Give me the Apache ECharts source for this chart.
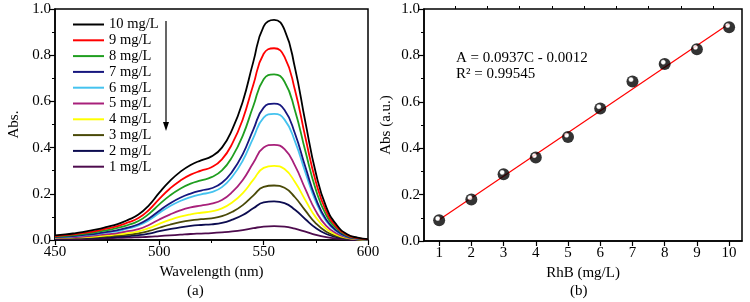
<!DOCTYPE html>
<html>
<head>
<meta charset="utf-8">
<script src="https://cdn.jsdelivr.net/npm/echarts@6/dist/echarts.min.js"></script>
<style>
  html, body { margin: 0; padding: 0; background: #fff; }
  #main { width: 750px; height: 302px; }
</style>
</head>
<body>
<div id="main"></div>
<script>
// (a) absorption spectra, every 5 nm
const wavelengths = [450, 455, 460, 465, 470, 475, 480, 485, 490, 495, 500, 505, 510, 515, 520, 525, 530, 535, 540, 545, 550, 555, 560, 565, 570, 575, 580, 585, 590, 595, 600];
const spec10 = [0.020, 0.024, 0.030, 0.037, 0.046, 0.057, 0.069, 0.087, 0.110, 0.150, 0.205, 0.255, 0.295, 0.325, 0.345, 0.362, 0.400, 0.480, 0.600, 0.770, 0.925, 0.953, 0.910, 0.745, 0.510, 0.290, 0.142, 0.065, 0.025, 0.010, 0.004];
const spec9 = [0.017, 0.021, 0.026, 0.032, 0.040, 0.050, 0.060, 0.076, 0.095, 0.130, 0.178, 0.222, 0.257, 0.283, 0.300, 0.315, 0.349, 0.418, 0.523, 0.671, 0.806, 0.830, 0.793, 0.649, 0.444, 0.252, 0.124, 0.056, 0.022, 0.008, 0.003];
const spec8 = [0.015, 0.018, 0.022, 0.028, 0.034, 0.043, 0.052, 0.065, 0.082, 0.113, 0.154, 0.192, 0.222, 0.244, 0.258, 0.272, 0.301, 0.361, 0.452, 0.579, 0.696, 0.717, 0.685, 0.561, 0.384, 0.218, 0.107, 0.049, 0.019, 0.007, 0.003];
const spec7 = [0.013, 0.015, 0.018, 0.023, 0.028, 0.035, 0.043, 0.054, 0.068, 0.093, 0.127, 0.158, 0.183, 0.201, 0.214, 0.224, 0.248, 0.297, 0.372, 0.477, 0.573, 0.590, 0.563, 0.461, 0.316, 0.179, 0.088, 0.040, 0.015, 0.006, 0.002];
const spec6 = [0.012, 0.014, 0.017, 0.021, 0.026, 0.033, 0.039, 0.050, 0.063, 0.086, 0.117, 0.146, 0.169, 0.186, 0.198, 0.207, 0.229, 0.275, 0.344, 0.441, 0.530, 0.546, 0.521, 0.427, 0.292, 0.166, 0.081, 0.037, 0.014, 0.005, 0.002];
const spec5 = [0.010, 0.011, 0.013, 0.016, 0.020, 0.025, 0.030, 0.038, 0.047, 0.065, 0.089, 0.110, 0.128, 0.141, 0.149, 0.157, 0.173, 0.208, 0.260, 0.333, 0.400, 0.412, 0.393, 0.322, 0.220, 0.125, 0.061, 0.028, 0.011, 0.004, 0.002];
const spec4 = [0.009, 0.010, 0.011, 0.013, 0.016, 0.020, 0.024, 0.030, 0.037, 0.051, 0.070, 0.087, 0.101, 0.111, 0.118, 0.124, 0.137, 0.163, 0.203, 0.260, 0.312, 0.321, 0.307, 0.251, 0.172, 0.098, 0.048, 0.022, 0.009, 0.003, 0.001];
const spec3 = [0.008, 0.009, 0.010, 0.011, 0.013, 0.016, 0.019, 0.023, 0.029, 0.039, 0.053, 0.066, 0.077, 0.085, 0.090, 0.094, 0.103, 0.122, 0.151, 0.192, 0.230, 0.236, 0.226, 0.185, 0.127, 0.072, 0.036, 0.017, 0.007, 0.003, 0.001];
const spec2 = [0.006, 0.007, 0.008, 0.009, 0.010, 0.012, 0.014, 0.017, 0.021, 0.028, 0.038, 0.047, 0.055, 0.061, 0.065, 0.068, 0.074, 0.088, 0.108, 0.137, 0.163, 0.167, 0.160, 0.131, 0.090, 0.052, 0.026, 0.012, 0.005, 0.002, 0.001];
const spec1 = [0.004, 0.005, 0.005, 0.006, 0.007, 0.008, 0.009, 0.010, 0.012, 0.014, 0.017, 0.020, 0.023, 0.026, 0.028, 0.030, 0.033, 0.037, 0.043, 0.051, 0.058, 0.060, 0.058, 0.049, 0.036, 0.022, 0.012, 0.006, 0.003, 0.001, 0.001];
const specNames = ['10 mg/L', '9 mg/L', '8 mg/L', '7 mg/L', '6 mg/L', '5 mg/L', '4 mg/L', '3 mg/L', '2 mg/L', '1 mg/L'];
const specColors = ['#000000', '#ff0000', '#1f9e1f', '#16167e', '#45c3ef', '#a8207a', '#ffff00', '#4a4a08', '#0c0c50', '#4e0c4e'];
const specData = [spec10, spec9, spec8, spec7, spec6, spec5, spec4, spec3, spec2, spec1];

// (b) calibration
const conc = [1, 2, 3, 4, 5, 6, 7, 8, 9, 10];
const absVals = [0.089, 0.179, 0.288, 0.360, 0.448, 0.571, 0.688, 0.763, 0.827, 0.921];
const fitLine = [[1, 0.092], [10, 0.936]];
const concTicks = [1, 2, 3, 4, 5, 6, 7, 8, 9, 10];
const concMinor = [1.5, 2.5, 3.5, 4.5, 5.5, 6.5, 7.5, 8.5, 9.5];

const font = 'Liberation Serif';
const txt = { color: '#000', fontFamily: font, fontSize: 15 };

function yAx(gridIndex, name, gap) {
  return {
    type: 'value', gridIndex: gridIndex, min: 0, max: 1, interval: 0.2,
    name: name, nameLocation: 'middle', nameGap: gap, nameTextStyle: txt,
    axisLine: { show: true, lineStyle: { color: '#000', width: 1.5 } },
    axisTick: { show: true, inside: false, length: 5, lineStyle: { color: '#000', width: 1.2 } },
    minorTick: { show: true, splitNumber: 2, length: 3, lineStyle: { color: '#000', width: 1 } },
    axisLabel: Object.assign({ margin: 4, formatter: v => v.toFixed(1) }, txt),
    splitLine: { show: false }
  };
}

const series = specData.map((d, i) => ({
  name: specNames[i], type: 'line', xAxisIndex: 0, yAxisIndex: 0,
  data: wavelengths.map((w, j) => [w, d[j]]),
  smooth: 0.5, symbol: 'none',
  lineStyle: { color: specColors[i], width: 1.8 },
  itemStyle: { color: specColors[i] },
  z: 20 - i
}));

series.push({
  type: 'line', xAxisIndex: 1, yAxisIndex: 1, data: fitLine, symbol: 'none',
  lineStyle: { color: '#ff0000', width: 1.2 }, z: 3
});
series.push({
  type: 'scatter', xAxisIndex: 1, yAxisIndex: 1,
  data: conc.map((c, i) => [c, absVals[i]]),
  symbolSize: 12,
  itemStyle: {
    color: {
      type: 'radial', x: 0.38, y: 0.35, r: 0.6,
      colorStops: [
        { offset: 0, color: '#ffffff' }, { offset: 0.22, color: '#ffffff' },
        { offset: 0.4, color: '#000000' }, { offset: 1, color: '#000000' }
      ]
    }
  },
  z: 5
});

const chart = echarts.init(document.getElementById('main'));
chart.setOption({
  animation: false,
  grid: [
    { left: 55, right: 382, top: 9, bottom: 62, show: true, borderColor: '#000', borderWidth: 1.5 },
    { left: 424, right: 8, top: 9, bottom: 61, show: true, borderColor: '#000', borderWidth: 1.5 }
  ],
  legend: {
    data: specNames, orient: 'vertical', left: 72, top: 17, padding: 0,
    itemWidth: 31, itemHeight: 16, itemGap: 0.8, itemStyle: { opacity: 0 },
    textStyle: { color: '#000', fontFamily: font, fontSize: 14.5 },
    selectedMode: false
  },
  xAxis: [
    {
      type: 'value', gridIndex: 0, min: 450, max: 600, interval: 50,
      name: 'Wavelength (nm)', nameLocation: 'middle', nameGap: 23, nameTextStyle: txt,
      axisLine: { show: true, lineStyle: { color: '#000', width: 1.5 } },
      axisTick: { show: true, length: 5, lineStyle: { color: '#000', width: 1.2 } },
      minorTick: { show: true, splitNumber: 2, length: 3, lineStyle: { color: '#000', width: 1 } },
      axisLabel: Object.assign({ margin: 5 }, txt),
      splitLine: { show: false }
    },
    {
      type: 'value', gridIndex: 1, min: 0.53, max: 10.4,
      name: 'RhB (mg/L)', nameLocation: 'middle', nameGap: 23, nameTextStyle: txt,
      axisLine: { show: true, lineStyle: { color: '#000', width: 1.5 } },
      axisTick: { show: true, length: 5, customValues: concTicks, lineStyle: { color: '#000', width: 1.2 } },
      axisLabel: Object.assign({ margin: 5, customValues: concTicks }, txt),
      splitLine: { show: false }
    },
    {
      type: 'value', gridIndex: 1, min: 0.53, max: 10.4,
      axisLine: { show: false },
      axisTick: { show: true, length: 3, customValues: concMinor, lineStyle: { color: '#000', width: 1 } },
      axisLabel: { show: false },
      splitLine: { show: false }
    }
  ],
  yAxis: [yAx(0, 'Abs.', 33), yAx(1, 'Abs (a.u.)', 30)],
  graphic: [
    { type: 'line', shape: { x1: 166, y1: 21, x2: 166, y2: 124 }, style: { stroke: '#000', lineWidth: 1.2 } },
    { type: 'polygon', shape: { points: [[163, 122], [169, 122], [166, 131]] }, style: { fill: '#000' } },
    { type: 'text', left: 456, top: 51, style: { text: 'A = 0.0937C - 0.0012', fill: '#000', font: '15px "Liberation Serif"' } },
    { type: 'text', left: 456, top: 67, style: { text: 'R\u00b2 = 0.99545', fill: '#000', font: '15px "Liberation Serif"' } },
    { type: 'text', left: 187, top: 284, style: { text: '(a)', fill: '#000', font: '15px "Liberation Serif"' } },
    { type: 'text', left: 570, top: 284, style: { text: '(b)', fill: '#000', font: '15px "Liberation Serif"' } }
  ],
  series: series
});
</script>
</body>
</html>
